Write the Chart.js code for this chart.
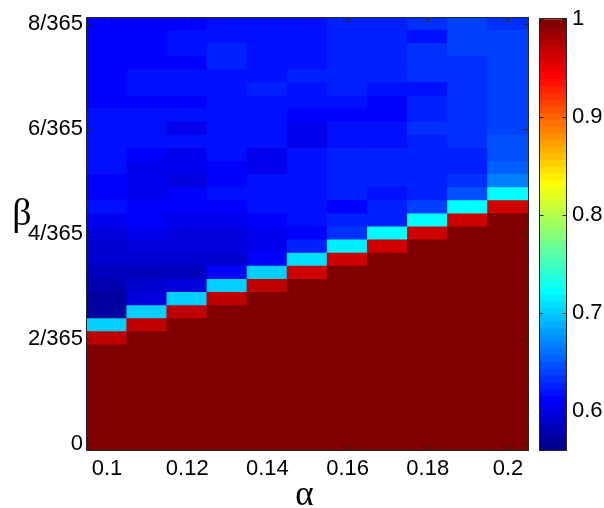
<!DOCTYPE html>
<html><head><meta charset="utf-8">
<script src="https://cdn.jsdelivr.net/npm/chart.js@4.4.1/dist/chart.umd.min.js"></script>
<style>
html,body{margin:0;padding:0;background:#fff;overflow:hidden}
#wrap{position:relative;width:604px;height:508px;background:#fff}
canvas{position:absolute;top:0}
#main{left:0}
#cbar{left:530px}
</style></head><body>
<div id="wrap"><canvas id="main" width="604" height="508"></canvas><canvas id="cbar" width="74" height="508"></canvas></div>
<script>
// ---- data ----
const alphas = ['0.1','0.11','0.12','0.13','0.14','0.15','0.16','0.17','0.18','0.19','0.2'];
const xTickLabels = ['0.1','0.12','0.14','0.16','0.18','0.2'];
// beta values in units of 1/365
const betas = [0,0.25,0.5,0.75,1,1.25,1.5,1.75,2,2.25,2.5,2.75,3,3.25,3.5,3.75,4,4.25,4.5,4.75,5,5.25,5.5,5.75,6,6.25,6.5,6.75,7,7.25,7.5,7.75,8];
const yTicks = [0,2,4,6,8];
const cbarTicks = [0.6,0.7,0.8,0.9,1];
const cMin = 0.56, cMax = 1;

// one array per alpha column, from beta = 0 up to beta = 8/365
const a010 = [1,1,1,1,1,1,1,1,.969,.701,.570,.570,.577,.584,.591,.591,.598,.605,.618,.612,.612,.618,.618,.618,.618,.618,.612,.612,.612,.612,.612,.612,.612];
const a011 = [1,1,1,1,1,1,1,1,1,.969,.701,.598,.591,.584,.591,.598,.605,.612,.612,.605,.605,.605,.612,.618,.618,.618,.612,.618,.618,.612,.612,.612,.612];
const a012 = [1,1,1,1,1,1,1,1,1,1,.969,.701,.598,.584,.591,.598,.598,.605,.612,.612,.598,.605,.605,.618,.605,.618,.612,.618,.618,.612,.618,.618,.612];
const a013 = [1,1,1,1,1,1,1,1,1,1,1,.969,.701,.612,.591,.598,.598,.605,.612,.618,.612,.612,.618,.618,.618,.618,.618,.618,.618,.625,.625,.618,.618];
const a014 = [1,1,1,1,1,1,1,1,1,1,1,1,.969,.701,.612,.605,.605,.612,.618,.618,.618,.605,.605,.618,.618,.618,.618,.625,.618,.618,.618,.618,.618];
const a015 = [1,1,1,1,1,1,1,1,1,1,1,1,1,.962,.708,.625,.612,.618,.618,.618,.618,.618,.618,.605,.605,.612,.618,.618,.625,.618,.618,.618,.618];
const a016 = [1,1,1,1,1,1,1,1,1,1,1,1,1,1,.962,.715,.632,.625,.612,.625,.625,.625,.625,.618,.618,.612,.618,.625,.625,.625,.625,.625,.625];
const a017 = [1,1,1,1,1,1,1,1,1,1,1,1,1,1,1,.962,.722,.625,.625,.618,.625,.625,.625,.618,.618,.612,.612,.618,.625,.625,.625,.625,.625];
const a018 = [1,1,1,1,1,1,1,1,1,1,1,1,1,1,1,1,.962,.722,.639,.625,.625,.625,.625,.625,.632,.625,.625,.618,.632,.632,.632,.618,.632];
const a019 = [1,1,1,1,1,1,1,1,1,1,1,1,1,1,1,1,1,.962,.722,.646,.632,.625,.625,.632,.632,.632,.632,.632,.632,.632,.639,.639,.639];
const a020 = [1,1,1,1,1,1,1,1,1,1,1,1,1,1,1,1,1,1,.962,.722,.667,.653,.646,.646,.639,.639,.639,.639,.639,.639,.639,.639,.632];
const columns = [a010,a011,a012,a013,a014,a015,a016,a017,a018,a019,a020];

// ---- MATLAB jet(64) colormap ----
function jetMap(m){
  const n = Math.ceil(m/4), u = [];
  for(let i=1;i<=n;i++) u.push(i/n);
  for(let i=0;i<n-1;i++) u.push(1);
  for(let i=n;i>=1;i--) u.push(i/n);
  const g0 = Math.ceil(n/2) - (m%4===1?1:0);
  const map = []; for(let j=0;j<m;j++) map.push([0,0,0]);
  u.forEach((val,idx)=>{
    const gi=g0+idx+1, ri=gi+n, bi=gi-n;
    if(gi>=1&&gi<=m) map[gi-1][1]=val;
    if(ri>=1&&ri<=m) map[ri-1][0]=val;
    if(bi>=1&&bi<=m) map[bi-1][2]=val;
  });
  return map.map(c=>`rgb(${Math.round(c[0]*255)},${Math.round(c[1]*255)},${Math.round(c[2]*255)})`);
}
const NLEV = 64;
const jet = jetMap(NLEV);
function colorFor(v){
  let i = Math.floor((v-cMin)/(cMax-cMin)*NLEV);
  if(i<0) i=0; if(i>NLEV-1) i=NLEV-1;
  return jet[i];
}

const FONT = '"Liberation Sans", Arial, Helvetica, sans-serif';
const SERIF = '"Liberation Serif", "Times New Roman", serif';
const half = (betas[1]-betas[0])/2;

const datasets = betas.map((b,k)=>({
  data: columns.map(()=>[b-half, b+half]),
  backgroundColor: columns.map(col=>colorFor(col[k])),
  borderWidth: 0, grouped: false, barPercentage: 1, categoryPercentage: 1, inflateAmount: 0.7
}));

const mainDecor = {
  id:'mainDecor',
  afterDraw(chart){
    const {ctx, chartArea:a, scales:{x,y}} = chart;
    ctx.save();
    ctx.strokeStyle = '#262626'; ctx.lineWidth = 1;
    const L = Math.round(a.left)-0.5, R = Math.round(a.right)+0.5, T = Math.round(a.top)-0.5, B = Math.round(a.bottom)+0.5;
    ctx.strokeRect(L, T, R-L, B-T);
    ctx.beginPath();
    xTickLabels.forEach(lab=>{
      const px = Math.round(x.getPixelForValue(alphas.indexOf(lab)))+0.5;
      ctx.moveTo(px,B); ctx.lineTo(px,B-5);
      ctx.moveTo(px,T); ctx.lineTo(px,T+5);
    });
    yTicks.forEach(v=>{
      const py = Math.round(y.getPixelForValue(v))+0.5;
      ctx.moveTo(L,py); ctx.lineTo(L+5,py);
      ctx.moveTo(R,py); ctx.lineTo(R-5,py);
    });
    ctx.stroke();
    ctx.fillStyle = '#000';
    ctx.textAlign = 'center'; ctx.textBaseline = 'alphabetic';
    ctx.font = '38px ' + SERIF;
    ctx.fillText('β', 22, 225);
    ctx.font = '35px ' + SERIF;
    ctx.fillText('α', (a.left+a.right)/2 - 3, 505);
    ctx.restore();
  }
};

new Chart(document.getElementById('main'), {
  type: 'bar',
  data: { labels: alphas, datasets },
  options: {
    responsive: false, animation: false, devicePixelRatio: 1,
    layout: { padding: { left: 0, top: 17.5, right: 76, bottom: 0 } },
    plugins: { legend: { display: false }, tooltip: { enabled: false } },
    scales: {
      x: {
        type: 'category', offset: true,
        grid: { display: false, drawTicks: false }, border: { display: false },
        ticks: { autoSkip: false, maxRotation: 0, minRotation: 0, padding: 6, color: '#000',
          font: { family: FONT, size: 22 },
          callback: (v,i)=> xTickLabels.includes(alphas[i]) ? alphas[i] : '' },
        afterFit: s => { s.height = 58; }
      },
      y: {
        type: 'linear', min: betas[0]-half, max: betas[betas.length-1]+half,
        grid: { display: false, drawTicks: false }, border: { display: false },
        afterBuildTicks: s => { s.ticks = yTicks.map(v=>({value:v})); },
        ticks: { padding: 4, color: '#000', font: { family: FONT, size: 22 },
          callback: v => v===0 ? '0' : v + '/365' },
        afterFit: s => { s.width = 87; }
      }
    }
  },
  plugins: [mainDecor]
});

// ---- colorbar ----
const step = (cMax-cMin)/NLEV;
const cbDatasets = jet.map((col,i)=>({
  data: [[cMin+i*step, cMin+(i+1)*step]],
  backgroundColor: col, borderWidth: 0, grouped: false, barPercentage: 1, categoryPercentage: 1, inflateAmount: 0.5
}));
const cbDecor = {
  id:'cbDecor',
  afterDraw(chart){
    const {ctx, chartArea:a, scales:{y}} = chart;
    ctx.save();
    ctx.strokeStyle = '#262626'; ctx.lineWidth = 1;
    const L = Math.round(a.left)-0.5, R = Math.round(a.right)+0.5, T = Math.round(a.top)-0.5, B = Math.round(a.bottom)+0.5;
    ctx.strokeRect(L, T, R-L, B-T);
    ctx.beginPath();
    cbarTicks.forEach(v=>{
      const py = Math.round(y.getPixelForValue(v))+0.5;
      ctx.moveTo(L,py); ctx.lineTo(L+4,py);
      ctx.moveTo(R,py); ctx.lineTo(R-4,py);
    });
    ctx.stroke();
    ctx.restore();
  }
};
new Chart(document.getElementById('cbar'), {
  type: 'bar',
  data: { labels: [''], datasets: cbDatasets },
  options: {
    responsive: false, animation: false, devicePixelRatio: 1,
    layout: { padding: { left: 10, top: 17.5, right: 0, bottom: 58 } },
    plugins: { legend: { display: false }, tooltip: { enabled: false } },
    scales: {
      x: { display: false, offset: true },
      y: {
        position: 'right', type: 'linear', min: cMin, max: cMax,
        grid: { display: false, drawTicks: false }, border: { display: false },
        afterBuildTicks: s => { s.ticks = cbarTicks.map(v=>({value:v})); },
        ticks: { padding: 6, color: '#000', font: { family: FONT, size: 22 },
          callback: v => String(Math.round(v*10)/10) },
        afterFit: s => { s.width = 38; }
      }
    }
  },
  plugins: [cbDecor]
});
</script></body></html>
